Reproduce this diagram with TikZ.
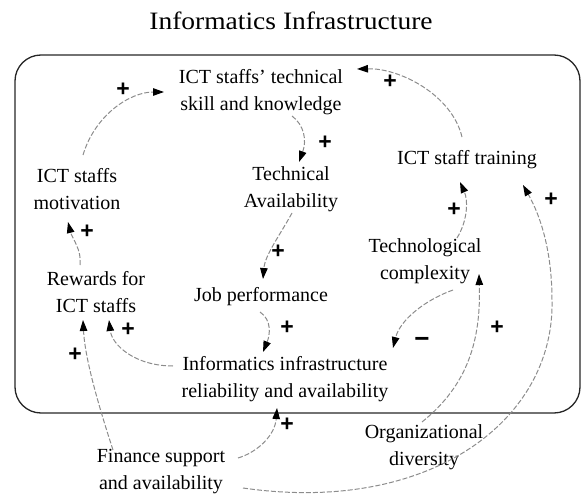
\documentclass[tikz,border=0pt]{standalone}
\usepackage{fontspec}
\setmainfont{Liberation Serif}
\newfontfamily\signfont{Liberation Sans}
\usetikzlibrary{arrows.meta}

\tikzset{
  lbl/.style={font=\fontsize{20}{27}\selectfont, align=center, inner sep=0pt},
  sign/.style={font=\signfont\bfseries\fontsize{23}{23}\selectfont, inner sep=0pt},
  link/.style={draw=black!45, line width=1pt, dash pattern=on 5pt off 2pt,
    -{Triangle[length=11pt,width=7.5pt,black]}},
  frame/.style={draw=black!85, line width=1.3pt, rounded corners=26pt}
}

\begin{document}
\begin{tikzpicture}[x=1pt, y=-1pt]
\useasboundingbox (0,0) rectangle (582,495);

% title and system boundary
\node[inner sep=0pt] (title) at (291,21)
  {\scalebox{1.1}[1]{\fontsize{25}{30}\selectfont Informatics Infrastructure}};
\draw[frame] (15,55) rectangle (580,413);

% variables
\node[lbl] (know) at (261,92)  {ICT staffs' technical\\skill and knowledge};
\node[lbl] (mot)  at (77,189)  {ICT staffs\\motivation};
\node[lbl] (tech) at (291,189) {Technical\\Availability};
\node[lbl] (train) at (467,160) {ICT staff training};
\node[lbl] (cplx) at (425,261) {Technological\\complexity};
\node[lbl] (rew)  at (96,292)  {Rewards for\\ICT staffs};
\node[lbl] (job)  at (261,297) {Job performance};
\node[lbl] (rel)  at (285,379) {Informatics infrastructure\\reliability and availability};
\node[lbl] (org)  at (424,447) {Organizational\\diversity};
\node[lbl] (fin)  at (161,472) {Finance support\\and availability};

% causal links
\draw[link] ([shift={(6,-34)}]mot.center) .. controls (95,115) and (130,92) .. ([shift={(-97,0)}]know.center);
\draw[link] ([shift={(-5,-23)}]train.center) .. controls (452,95) and (400,68) .. ([shift={(96,-23)}]know.center);
\draw[link] ([shift={(31,24)}]know.center) .. controls (304,125) and (307,140) .. ([shift={(8,-27)}]tech.center);
\draw[link] ([shift={(-16,-27)}]rew.center) .. controls (82,250) and (72,238) .. ([shift={(-9,33)}]mot.center);
\draw[link] ([shift={(32,-23)}]cplx.center) .. controls (468,220) and (468,200) .. ([shift={(-7,22)}]train.center);
\draw[link] ([shift={(82,16)}]fin.center) .. controls (430,515) and (555,420) .. (552,300)
             .. controls (552,250) and (540,215) .. ([shift={(56,25)}]train.center);
\draw[link] ([shift={(1,24)}]tech.center) .. controls (280,235) and (265,255) .. ([shift={(2,-18)}]job.center);
\draw[link] ([shift={(-1,15)}]job.center) .. controls (272,320) and (270,335) .. ([shift={(-22,-27)}]rel.center);
\draw[link] ([shift={(-112,-13)}]rel.center) .. controls (135,366) and (112,345) .. ([shift={(13,28)}]rew.center);
\draw[link] ([shift={(-48,-22)}]fin.center) .. controls (100,410) and (85,360) .. ([shift={(-13,28)}]rew.center);
\draw[link] ([shift={(77,-14)}]fin.center) .. controls (258,452) and (275,435) .. ([shift={(-8,29)}]rel.center);
\draw[link] ([shift={(-2,-25)}]org.center) .. controls (468,385) and (481,340) .. ([shift={(54,13)}]cplx.center);
\draw[link] ([shift={(28,29)}]cplx.center) .. controls (425,300) and (400,320) .. ([shift={(108,-31)}]rel.center);

% polarities
\node[sign] (s1)  at (123,90)  {+};
\node[sign] (s2)  at (390,82)  {+};
\node[sign] (s3)  at (325,143) {+};
\node[sign] (s4)  at (87,232)  {+};
\node[sign] (s5)  at (454,210) {+};
\node[sign] (s6)  at (551,200) {+};
\node[sign] (s7)  at (278,252) {+};
\node[sign] (s8)  at (287,328) {+};
\node[sign] (s9)  at (128,330) {+};
\node[sign] (s10) at (75,355)  {+};
\node[sign] (s11) at (287,425) {+};
\node[sign] (s12) at (497,328) {+};
\node[sign, font=\signfont\bfseries\fontsize{26}{26}\selectfont] (s13) at (422,342) {\char"2212};
\end{tikzpicture}
\end{document}
